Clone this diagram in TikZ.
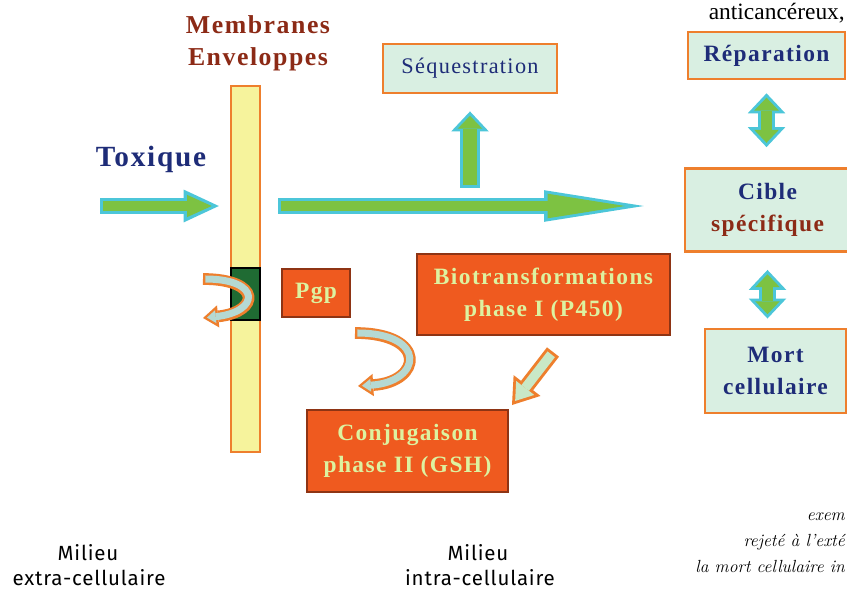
\documentclass[tikz,border=0pt]{standalone}
\usepackage{fontspec}
\setmainfont{Liberation Serif}
\newfontfamily\boxfont{Liberation Serif}[LetterSpace=6]
\newfontfamily\handfont{Fira Sans}[LetterSpace=4]
\newfontfamily\pagefont{Latin Modern Roman}
\usetikzlibrary{arrows.meta, positioning}
\definecolor{arrowgreen}{HTML}{7DC242}
\definecolor{arrowcyan}{HTML}{4CC6D9}
\definecolor{rimorange}{HTML}{EE7F2D}
\definecolor{paleteal}{HTML}{B5D9D3}
\definecolor{palemint}{HTML}{C9E8C6}
\definecolor{boxorange}{HTML}{EF5A1F}
\definecolor{boxedge}{HTML}{8E3414}
\definecolor{paleyellow}{HTML}{DDF2A0}
\definecolor{mintfill}{HTML}{D9EFE2}
\definecolor{inkblue}{HTML}{1E2C78}
\definecolor{inkbrown}{HTML}{8C2A16}
\definecolor{membfill}{HTML}{F6F39C}
\definecolor{pumpgreen}{HTML}{1F6B33}
\tikzstyle{lightbox} = [draw=rimorange, line width=2.5pt, fill=mintfill, rectangle, align=center, text=inkblue, inner sep=0pt, font=\boxfont\bfseries\fontsize{20}{27}\selectfont]
\tikzstyle{hotbox} = [draw=boxedge, line width=1.8pt, fill=boxorange, rectangle, align=center, text=paleyellow, inner sep=0pt, font=\boxfont\bfseries\fontsize{20}{27}\selectfont]
\tikzstyle{title} = [text=inkbrown, inner sep=0pt, font=\boxfont\bfseries\fontsize{22}{26}\selectfont]
\tikzstyle{hand} = [inner sep=0pt, font=\handfont\fontsize{17.5}{21}\selectfont]
\tikzstyle{pagetext} = [inner sep=0pt, font=\pagefont\itshape\fontsize{15}{18}\selectfont]
\newcommand{\tip}[2]{Triangle[length=#1, width=#2, line width=0pt]}

\begin{document}
\begin{tikzpicture}[x=0.03cm, y=-0.03cm]
  \useasboundingbox (0,0) rectangle (847,590);
  \fill[white] (0,0) rectangle (847,590);
  \clip (0,0) rectangle (847,590);

  % membrane with its pump
  \node[draw=rimorange, line width=2pt, fill=membfill, minimum width=0.87cm, minimum height=10.98cm] (memb) at (245.5,269) {};
  \node[draw=black, line width=1.5pt, fill=pumpgreen, minimum width=0.87cm, minimum height=1.56cm] (pump) at (245.5,294) {};
  \node[title, anchor=base] (titleA) at (258,34) {Membranes};
  \node[title, anchor=base] (titleB) at (258,66) {Enveloppes};
  \node[text=inkblue, inner sep=0pt, anchor=base, font=\boxfont\bfseries\fontsize{25}{30}\selectfont] (tox) at (151,166) {Toxique};
  \coordinate (toxin) at (100,206);

  % boxes
  \node[lightbox, minimum width=5.22cm, minimum height=1.47cm, font=\boxfont\fontsize{19}{22}\selectfont] (seq) at (470,68.5) {Séquestration};
  \node[lightbox, minimum width=4.71cm, minimum height=1.41cm] (rep) at (766.5,55.5) {Réparation};
  \node[lightbox, minimum width=4.95cm, minimum height=2.49cm] (cible) at (767.5,210) {Cible\\\textcolor{inkbrown}{spécifique}};
  \node[lightbox, minimum width=4.23cm, minimum height=2.52cm] (mort) at (775.5,371) {Mort\\cellulaire};
  \node[hotbox, minimum width=7.59cm, minimum height=2.43cm] (bio) at (543.5,294.5) {Biotransformations\\phase I (P450)};
  \node[hotbox, minimum width=6.03cm, minimum height=2.46cm] (conj) at (407.5,451) {Conjugaison\\phase II (GSH)};
  \node[hotbox, minimum width=2.04cm, minimum height=1.44cm] (pgp) at (316,293) {Pgp};

  % green arrows
  \draw[arrowcyan, line width=14.5pt, shorten >=9.4pt, -{\tip{30pt}{28pt}}] (toxin) -- (toxin -| memb.west);
  \draw[arrowgreen, line width=9pt, shorten <=2.5pt, shorten >=15.5pt, -{\tip{21pt}{19pt}}] (toxin) -- (toxin -| memb.west);
  \draw[arrowcyan, line width=14.5pt, shorten <=14.5pt, shorten >=34pt, -{\tip{85pt}{27pt}}] (toxin -| memb.east) -- (toxin -| cible.west);
  \draw[arrowgreen, line width=9pt, shorten <=17pt, shorten >=50pt, -{\tip{66pt}{21pt}}] (toxin -| memb.east) -- (toxin -| cible.west);
  \draw[arrowcyan, line width=17pt, shorten <=15.4pt, shorten >=14.5pt, -{\tip{17pt}{32pt}}] (seq.south |- toxin) -- (seq.south);
  \draw[arrowgreen, line width=11.5pt, shorten <=17.9pt, shorten >=18.2pt, -{\tip{11pt}{21pt}}] (seq.south |- toxin) -- (seq.south);
  \draw[arrowcyan, line width=15pt, shorten <=11pt, shorten >=17pt, {\tip{17pt}{32pt}}-{\tip{17pt}{32pt}}] (rep.south) -- (rep.south |- cible.north);
  \draw[arrowgreen, line width=9.5pt, shorten <=14.7pt, shorten >=20.7pt, {\tip{11pt}{21pt}}-{\tip{11pt}{21pt}}] (rep.south) -- (rep.south |- cible.north);
  \draw[arrowcyan, line width=15pt, shorten <=14.5pt, shorten >=7.7pt, {\tip{17pt}{32pt}}-{\tip{17pt}{32pt}}] (cible.south) -- (cible.south |- mort.north);
  \draw[arrowgreen, line width=9.5pt, shorten <=18.2pt, shorten >=11.4pt, {\tip{11pt}{21pt}}-{\tip{11pt}{21pt}}] (cible.south) -- (cible.south |- mort.north);

  % orange rimmed arrows
  \coordinate (effA) at (203,279);
  \coordinate (effB) at (203,318);
  \coordinate (pgpout) at (355,333);
  \coordinate (conjin) at (358,386);
  \coordinate (bioout) at (553,352);
  \coordinate (conjtop) at (512,405);
  \draw[rimorange, line width=10pt, -{\tip{13pt}{19pt}}] (effA) .. controls (262,279) and (260,312) .. (effB);
  \draw[paleteal, line width=6pt, shorten <=2pt, shorten >=3.4pt, -{\tip{7.5pt}{11pt}}] (effA) .. controls (262,279) and (260,312) .. (effB);
  \draw[rimorange, line width=10pt, -{\tip{13pt}{19pt}}] (pgpout) .. controls (428,333) and (422,382) .. (conjin);
  \draw[paleteal, line width=6pt, shorten <=2pt, shorten >=3.4pt, -{\tip{7.5pt}{11pt}}] (pgpout) .. controls (428,333) and (422,382) .. (conjin);
  \draw[rimorange, line width=13pt, -{\tip{21pt}{29pt}}] (bioout) -- (conjtop);
  \draw[palemint, line width=8pt, shorten <=2.5pt, shorten >=4.4pt, -{\tip{14pt}{19.5pt}}] (bioout) -- (conjtop);

  % media
  \node[hand, anchor=base] (extraA) at (88,560) {Milieu};
  \node[hand, anchor=base] (extraB) at (89,585) {extra-cellulaire};
  \node[hand, anchor=base] (intraA) at (478,560) {Milieu};
  \node[hand, anchor=base] (intraB) at (480,585) {intra-cellulaire};

  % page text at the frame
  \node[inner sep=0pt, anchor=base east, font=\fontsize{20}{24}\selectfont] (pageA) at (845,20) {anticancéreux,};
  \node[pagetext, anchor=base east] (pageB) at (845,520) {exem};
  \node[pagetext, anchor=base east] (pageC) at (845,546) {rejeté à l’exté};
  \node[pagetext, anchor=base east] (pageD) at (845,572) {la mort cellulaire in};
\end{tikzpicture}
\end{document}
